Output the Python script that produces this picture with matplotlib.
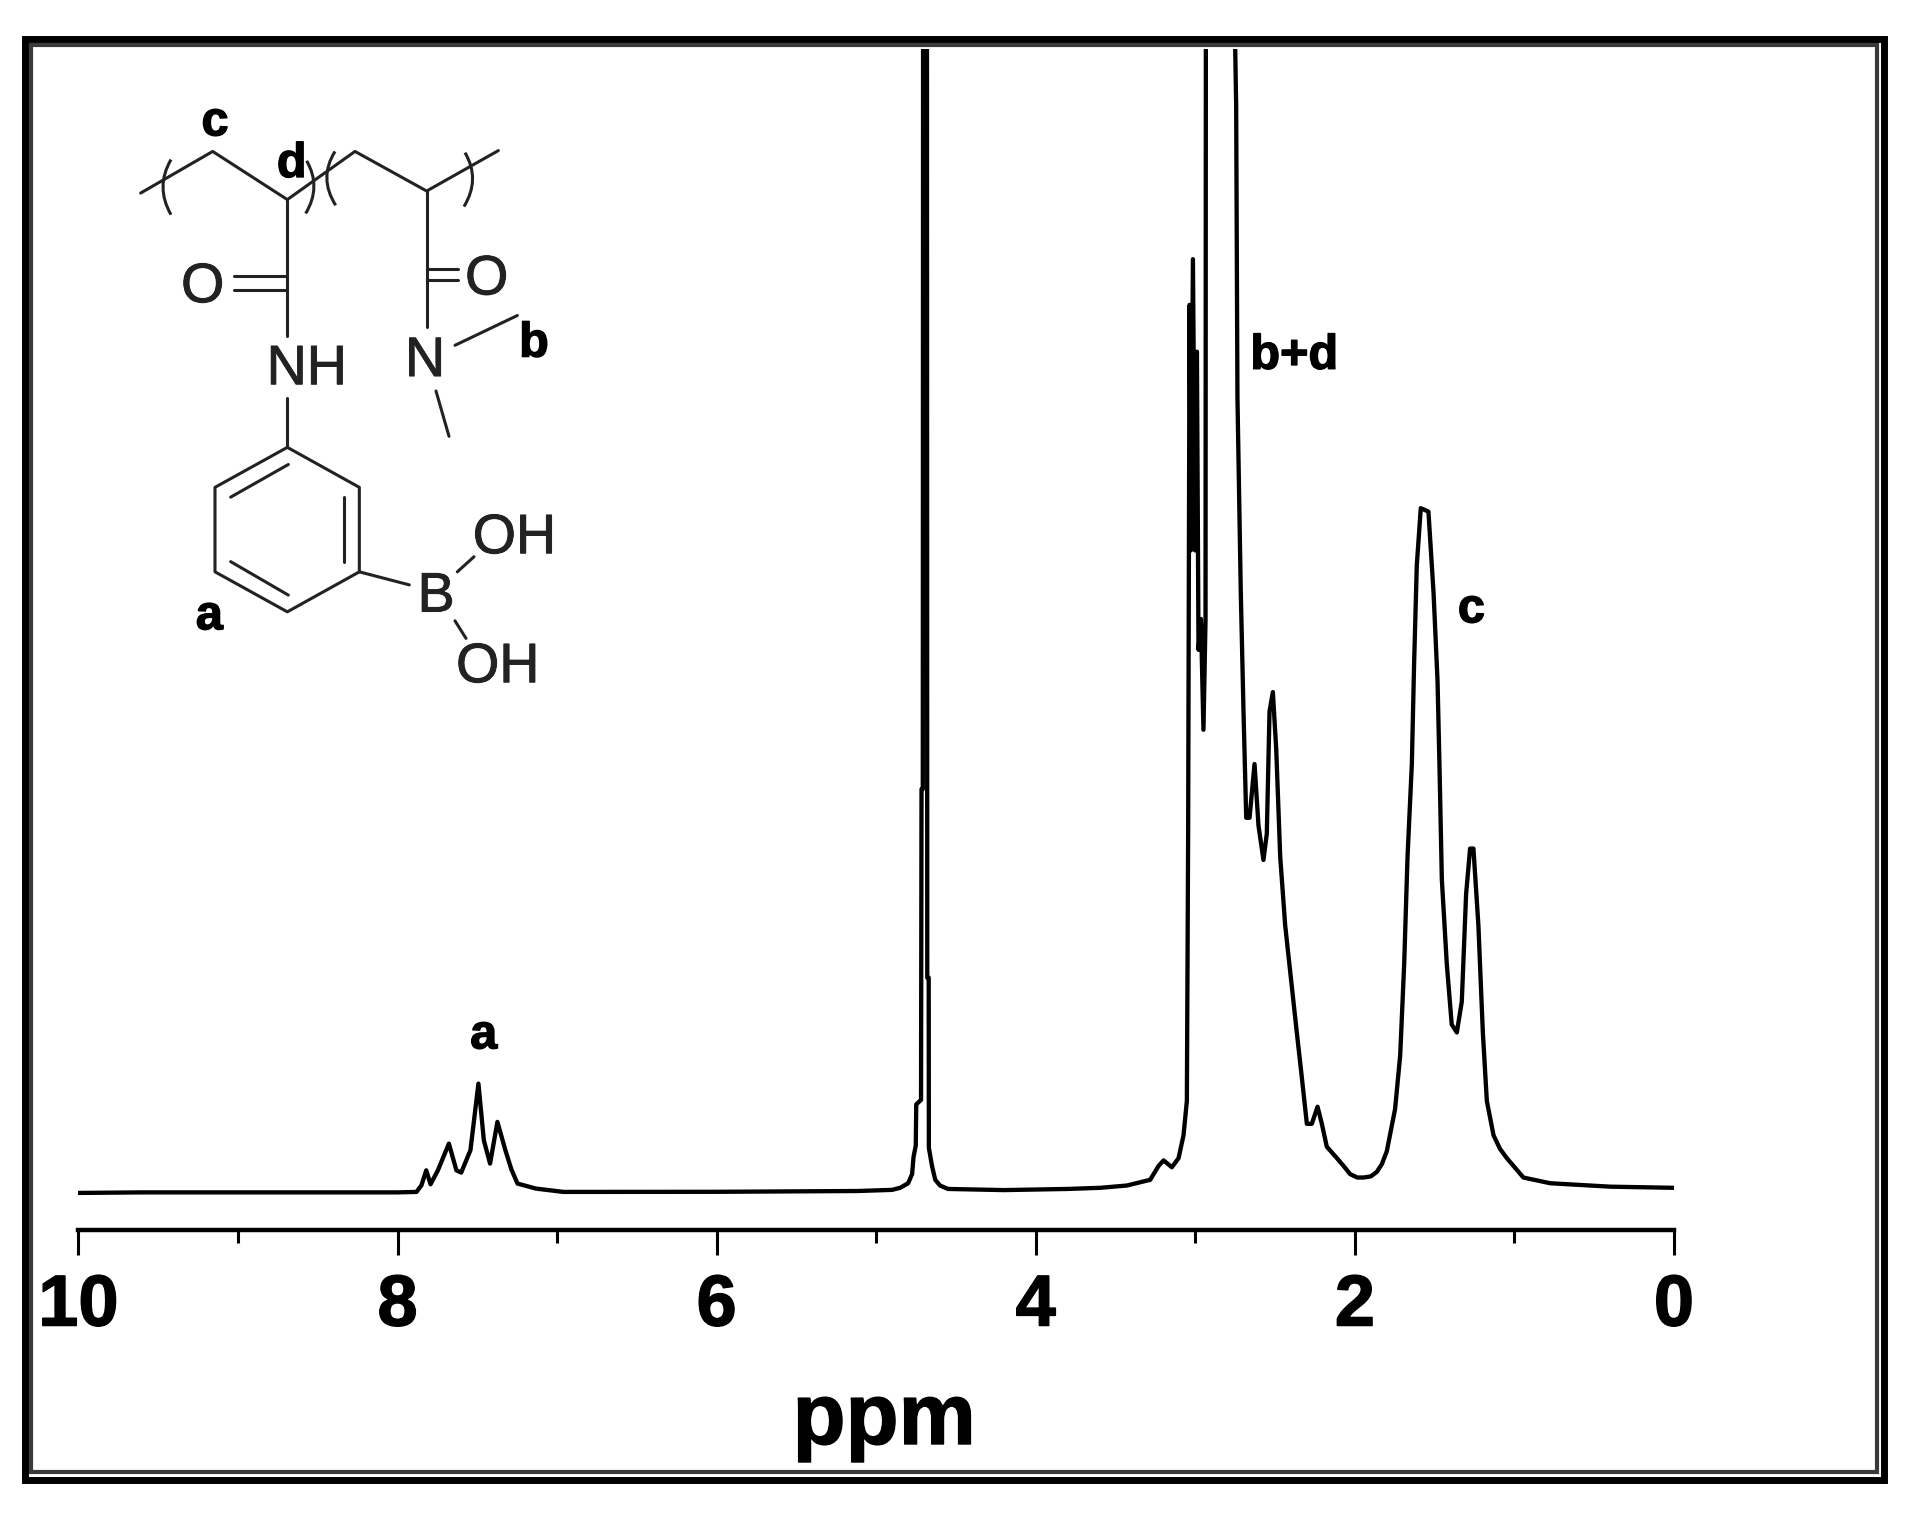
import matplotlib
matplotlib.use("Agg")
import matplotlib.pyplot as plt
import matplotlib.patheffects as pe
from matplotlib.patches import Rectangle, PathPatch
from matplotlib.path import Path

W, H = 1920, 1514
plt.rcParams['font.family'] = ['Liberation Sans', 'DejaVu Sans']

# ---- spectrum ----
ppm = [10.0, 9.6, 9.0, 8.5, 8.0, 7.881, 7.850, 7.820, 7.793, 7.747, 7.678, 7.631, 7.601, 7.543,
       7.493, 7.459, 7.420, 7.374, 7.324, 7.286, 7.248, 7.132, 6.960, 6.0, 5.117, 4.90, 4.85, 4.80,
       4.775, 4.766, 4.752, 4.749, 4.719, 4.716, 4.708, 4.706, 4.70, 4.682, 4.680, 4.671, 4.670,
       4.650, 4.63, 4.60, 4.55, 4.2, 3.8,
       3.596, 3.429, 3.283, 3.231, 3.199, 3.147, 3.105, 3.074, 3.053, 3.045, 3.036, 3.028,
       3.015, 3.001, 2.990, 2.980, 2.965, 2.949, 2.936, 2.934, 2.90, 2.82, 2.750, 2.744,
       2.736, 2.715, 2.698, 2.681, 2.660, 2.629, 2.604, 2.573, 2.552, 2.535, 2.514, 2.493,
       2.468, 2.437, 2.395, 2.364, 2.332, 2.301, 2.270, 2.234, 2.207, 2.176, 2.113, 2.070, 2.030,
       1.985, 1.946, 1.900, 1.862, 1.830, 1.800, 1.748, 1.716, 1.691, 1.670, 1.643, 1.629, 1.612, 1.587, 1.539,
       1.507, 1.482, 1.470, 1.455, 1.424, 1.393, 1.361, 1.330, 1.303, 1.278, 1.257, 1.226,
       1.198, 1.173, 1.131, 1.090, 1.048, 0.944, 0.776, 0.4, 0.0]
intensity = [-0.15, -0.1, -0.1, -0.1, -0.1, -0.06, 0.52, 1.83, 0.61, 1.83, 4.17, 1.83, 1.63, 3.59,
             9.42, 4.46, 2.42, 6.07, 3.59, 1.9, 0.67, 0.23, -0.06, -0.05, 0.02, 0.12, 0.3, 0.7,
             1.5, 3.0, 4.0, 7.6, 8.0, 35.2, 35.2, 110.0, 125.0, 110.0, 18.7, 18.7, 3.8,
             2.2, 1.0, 0.5, 0.2, 0.1, 0.2,
             0.3, 0.5, 1.0, 2.2, 2.7, 2.1, 2.9, 4.9, 7.9, 31.3, 77.6, 56.1,
             81.6, 56.1, 73.5, 47.4, 50.1, 40.4, 50.1, 100.0, 115.0, 125.0, 100.0, 95.0,
             69.5, 52.4, 42.0, 32.7, 32.7, 37.4, 32.0, 29.0, 31.3, 42.0, 43.7, 38.7,
             29.3, 23.3, 17.9, 13.9, 9.9, 5.9, 5.9, 7.4, 5.9, 3.9, 2.9, 2.2, 1.5,
             1.2, 1.2, 1.3, 1.7, 2.4, 3.5, 7.2, 11.9, 19.9, 29.3, 37.4, 46.1, 54.8, 59.8, 59.5,
             52.4, 44.7, 37.4, 27.3, 19.9, 14.6, 13.9, 16.6, 26.0, 30.0, 30.0, 23.3,
             13.9, 7.9, 4.9, 3.7, 2.9, 1.2, 0.7, 0.4, 0.3]

major_ticks = [10, 8, 6, 4, 2, 0]
minor_ticks = [9, 7, 5, 3, 1]
tick_labels = ['10', '8', '6', '4', '2', '0']
x_label = 'ppm'
peak_labels = [('a', 7.46, 13.6), ('b+d', 2.38, 73.1), ('c', 1.27, 50.9)]

fig = plt.figure(figsize=(W / 100, H / 100), dpi=100, facecolor='white')

def px_axes(x0, y0, x1, y1, **kw):
    return fig.add_axes([x0 / W, 1 - y1 / H, (x1 - x0) / W, (y1 - y0) / H], **kw)

heavy = [pe.withStroke(linewidth=1.0, foreground='black')]
semi = [pe.withStroke(linewidth=0.7, foreground='#222222')]

# frame layer
bg = px_axes(0, 0, W, H)
bg.set_xlim(0, W); bg.set_ylim(H, 0); bg.axis('off')
bg.add_patch(Rectangle((24.5, 39), 1859.5, 1441, fill=False, ec='black', lw=5.0))
bg.add_patch(Rectangle((30.5, 45), 1846.5, 1427, fill=False, ec='#3a3a3a', lw=3.0))

# main axes: x 10..0 over px 78.4..1674, y 0 at px 1191
ax = px_axes(78.4, 49, 1674, 1229.5)
ax.patch.set_alpha(0)
ax.set_xlim(10, 0)
ax.set_ylim(-3.35, 100)
ax.plot(ppm, intensity, color='black', lw=3.1, solid_joinstyle='round')
for s in ('top', 'left', 'right'):
    ax.spines[s].set_visible(False)
ax.spines['bottom'].set_linewidth(3.2)
ax.set_yticks([])
ax.set_xticks(major_ticks)
ax.set_xticklabels(tick_labels, fontsize=52, fontweight='bold', path_effects=heavy)
ax.set_xticks(minor_ticks, minor=True)
ax.tick_params(axis='x', which='major', length=18, width=2.2, pad=13)
ax.tick_params(axis='x', which='minor', length=9, width=2.2)
for lab, xv, yv in peak_labels:
    ax.text(xv, yv, lab, fontsize=35, fontweight='bold', ha='center', va='center', path_effects=heavy)
bg.text(884, 1444, x_label, fontsize=62.5, fontweight='bold', ha='center', va='baseline', path_effects=heavy)

# chemical structure drawn in its own small axes
st = px_axes(100, 80, 580, 720)
st.set_xlim(0, 1440); st.set_ylim(1568, 0); st.axis('off')
ink = '#222222'
bonds = [
    [(122, 277), (338, 175), (562, 293), (765, 175), (980, 272), (1195, 173)],
    [(562, 293), (562, 628)], [(403, 480), (562, 480)], [(403, 515), (562, 515)],
    [(562, 780), (562, 900)],
    [(562, 900), (778, 998), (778, 1205), (562, 1303), (345, 1205), (345, 998), (562, 900)],
    [(392, 1022), (565, 942)], [(733, 1022), (733, 1180)], [(392, 1180), (565, 1262)],
    [(778, 1205), (928, 1237)], [(1072, 1205), (1122, 1168)], [(1065, 1325), (1098, 1368)],
    [(980, 272), (980, 605)], [(980, 463), (1075, 463)], [(980, 490), (1075, 490)],
    [(1065, 650), (1252, 577)], [(1008, 762), (1047, 873)],
]
for b in bonds:
    st.plot(*zip(*b), color=ink, lw=2.2, solid_capstyle='round')
brackets = [
    [(213, 195), (165, 262), (213, 330)], [(620, 198), (665, 262), (617, 327)],
    [(705, 175), (655, 240), (707, 307)], [(1095, 178), (1142, 243), (1092, 310)],
]
for p in brackets:
    st.add_patch(PathPatch(Path(p, [Path.MOVETO, Path.CURVE3, Path.CURVE3]), fill=False, ec=ink, lw=2.2))
atoms = [('O', 308, 510), ('O', 1160, 491), ('NH', 620, 711), ('N', 975, 691),
         ('B', 1008, 1268), ('OH', 1243, 1125), ('OH', 1193, 1441)]
for t, x, y in atoms:
    st.text(x, y, t, fontsize=40, color=ink, ha='center', va='center', path_effects=semi)
for t, x, y in [('c', 345, 105), ('d', 575, 207), ('b', 1302, 647), ('a', 328, 1315)]:
    st.text(x, y, t, fontsize=35, fontweight='bold', ha='center', va='center', path_effects=heavy)

fig.savefig('out.png', dpi=100)
